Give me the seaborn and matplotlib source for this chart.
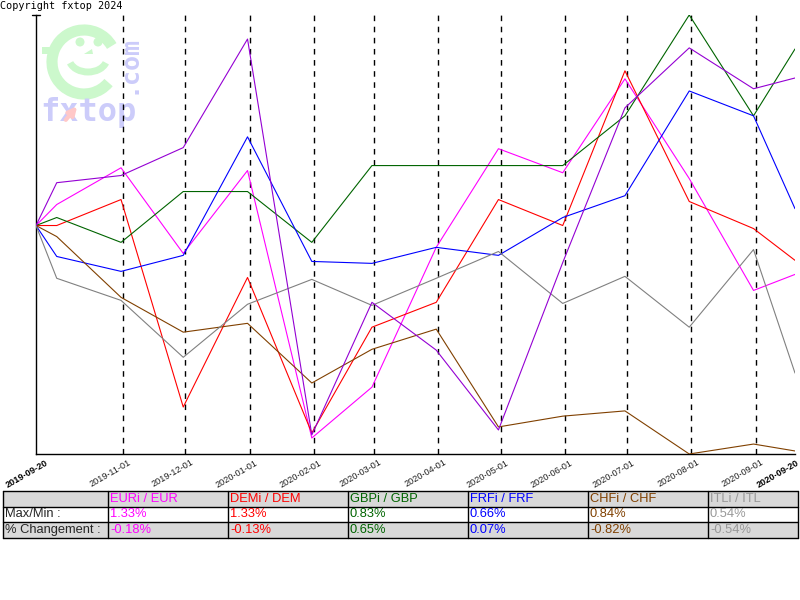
import numpy as np
import pandas as pd
import matplotlib
matplotlib.use("Agg")
import matplotlib.pyplot as plt
import matplotlib.transforms as mtransforms
import seaborn as sns
from matplotlib.patches import Rectangle, Arc, Circle, Polygon

# ---------------- data ----------------
dates = ["2019-09-20", "2019-09-30", "2019-10-31", "2019-11-30", "2019-12-31",
         "2020-01-31", "2020-02-29", "2020-03-31", "2020-04-30", "2020-05-31",
         "2020-06-30", "2020-07-31", "2020-08-31", "2020-09-20"]

eur = [0, 0.076, 0.209, -0.101, 0.199, -0.769, -0.585, -0.079, 0.278, 0.191, 0.531, 0.170, -0.235, -0.177]
dem = [0, 0.000, 0.094, -0.657, -0.188, -0.751, -0.368, -0.278, 0.094, 0.000, 0.560, 0.087, -0.011, -0.126]
gbp = [0, 0.029, -0.061, 0.123, 0.123, -0.061, 0.217, 0.217, 0.217, 0.217, 0.397, 0.762, 0.397, 0.639]
frf = [0, -0.112, -0.166, -0.108, 0.321, -0.130, -0.137, -0.079, -0.108, 0.029, 0.108, 0.487, 0.397, 0.061]
chf = [0, -0.040, -0.260, -0.386, -0.354, -0.570, -0.448, -0.375, -0.729, -0.690, -0.671, -0.827, -0.791, -0.816]
itl = [0, -0.191, -0.271, -0.477, -0.285, -0.195, -0.289, -0.191, -0.094, -0.282, -0.184, -0.368, -0.087, -0.534]
other = [0, 0.155, 0.181, 0.282, 0.675, -0.758, -0.278, -0.451, -0.740, -0.134, 0.426, 0.643, 0.495, 0.534]

series_names = ["EURi / EUR", "DEMi / DEM", "GBPi / GBP", "FRFi / FRF", "CHFi / CHF", "ITLi / ITL", "autre"]
series_vals = [eur, dem, gbp, frf, chf, itl, other]
series_colors = ["#ff00ff", "#ff0000", "#006400", "#0000ff", "#804000", "#808080", "#9400d3"]

table_names = ["EURi / EUR", "DEMi / DEM", "GBPi / GBP", "FRFi / FRF", "CHFi / CHF", "ITLi / ITL"]
table_colors = ["#ff00ff", "#ff0000", "#006400", "#0000ff", "#804000", "#999999"]
max_min = [1.33, 1.33, 0.83, 0.66, 0.84, 0.54]
changement = [-0.18, -0.13, 0.65, 0.07, -0.82, -0.54]

month_lines = ["2019-11-01", "2019-12-01", "2020-01-01", "2020-02-01", "2020-03-01", "2020-04-01",
               "2020-05-01", "2020-06-01", "2020-07-01", "2020-08-01", "2020-09-01"]
start_date, end_date = "2019-09-20", "2020-09-20"

# ---------------- figure ----------------
sns.set_style("white")
plt.rcParams['font.family'] = ['Liberation Sans', 'DejaVu Sans']

W, H = 800, 600
fig = plt.figure(figsize=(8, 6), dpi=100)

# overlay (pixel coordinates) for watermark / table
ov = fig.add_axes([0, 0, 1, 1])
ov.set_xlim(0, W)
ov.set_ylim(H, 0)
ov.axis("off")

# watermark logo (y axis inverted: positive angles go downward visually)
green_l = "#ccf8cc"
blue_l = "#ccccfa"
ov.add_patch(Arc((84, 62), 64, 64, theta1=40, theta2=330, lw=8, color=green_l))
ov.add_patch(Rectangle((42, 47), 10, 7, color=green_l, lw=0))
ov.add_patch(Circle((80, 42), 4.5, color=green_l, lw=0))
ov.add_patch(Circle((98, 42), 4.5, color=green_l, lw=0))
ov.add_patch(Polygon([(84, 54), (92, 49), (93, 54)], closed=True, color=green_l, lw=0))
ov.add_patch(Arc((88, 58), 38, 28, theta1=15, theta2=165, lw=5, color=green_l))
ov.text(40, 113, "fxtop", fontsize=23, fontweight="bold", color=blue_l,
        family="DejaVu Sans Mono", va="center", ha="left")
ov.text(128, 64, ".com", fontsize=18, fontweight="bold", color=blue_l,
        family="DejaVu Sans Mono", va="center", ha="center", rotation=90)
ov.annotate("", xy=(79, 104), xytext=(64, 122),
            arrowprops=dict(arrowstyle="-|>", color="#ffc8c8", lw=3, mutation_scale=12))

ov.text(0, 1, "Copyright fxtop 2024", fontsize=7.3, family="DejaVu Sans Mono",
        va="top", ha="left", color="black")
ov.plot([32, 40], [15, 15], color="black", lw=1)

# table
row_y = [491, 506.5, 522, 537.5]
col_x = [3, 108, 228, 348, 468, 588, 708, 798]
row_bg = ["#d9d9d9", "white", "#d9d9d9"]
for r in range(3):
    ov.add_patch(Rectangle((col_x[0], row_y[r]), col_x[-1] - col_x[0], row_y[r + 1] - row_y[r],
                           facecolor=row_bg[r], edgecolor="none", zorder=1))
for yy in row_y:
    ov.plot([col_x[0], col_x[-1]], [yy, yy], color="black", lw=1, zorder=2)
for xx in col_x:
    ov.plot([xx, xx], [row_y[0], row_y[-1]], color="black", lw=1, zorder=2)

fs_t = 9.3
ov.text(col_x[0] + 2, (row_y[1] + row_y[2]) / 2, "Max/Min :", fontsize=fs_t, va="center", ha="left", zorder=3)
ov.text(col_x[0] + 2, (row_y[2] + row_y[3]) / 2, "% Changement :", fontsize=fs_t, va="center", ha="left", zorder=3)
for i, name in enumerate(table_names):
    x0 = col_x[i + 1] + 2
    c = table_colors[i]
    ov.text(x0, (row_y[0] + row_y[1]) / 2, name, fontsize=fs_t, color=c, va="center", ha="left", zorder=3)
    ov.text(x0, (row_y[1] + row_y[2]) / 2, f"{max_min[i]:.2f}%", fontsize=fs_t, color=c, va="center", ha="left", zorder=3)
    ov.text(x0, (row_y[2] + row_y[3]) / 2, f"{changement[i]:.2f}%", fontsize=fs_t, color=c, va="center", ha="left", zorder=3)

# main chart
ax = fig.add_axes([36 / W, 1 - 454 / H, (795 - 36) / W, (454 - 15) / H])
ax.patch.set_alpha(0)

rows = []
for name, vals in zip(series_names, series_vals):
    for d, v in zip(dates, vals):
        rows.append({"date": pd.Timestamp(d), "value": v, "series": name})
df = pd.DataFrame(rows)

for name in month_lines:
    ax.axvline(pd.Timestamp(name), color="black", lw=1, ls=(0, (4, 4)), zorder=1)

sns.lineplot(data=df, x="date", y="value", hue="series", hue_order=series_names,
             palette=dict(zip(series_names, series_colors)), ax=ax, legend=False,
             linewidth=0.8, estimator=None, sort=False, zorder=3)

allv = np.concatenate([np.array(v) for v in series_vals])
ax.set_ylim(allv.min(), allv.max())
ax.set_xlim(pd.Timestamp(start_date), pd.Timestamp(end_date))
ax.set_xlabel("")
ax.set_ylabel("")
ax.set_yticks([])

tick_dates = [start_date] + month_lines + [end_date]
ax.set_xticks([pd.Timestamp(d) for d in tick_dates])
ax.set_xticklabels([])
ax.tick_params(axis="x", length=0)

# date labels drawn as rotated texts under each tick
base = ax.get_xaxis_transform()
for i, d in enumerate(tick_dates):
    is_edge = i == 0 or i == len(tick_dates) - 1
    dx = 9 if i == 0 else (1 if i == len(tick_dates) - 1 else 5)
    off = mtransforms.ScaledTranslation(dx / 100, -4 / 100, fig.dpi_scale_trans)
    ax.text(pd.Timestamp(d), 0, d, transform=base + off, rotation=30,
            ha="right", va="top", rotation_mode="anchor",
            fontsize=6.6, color="black" if is_edge else "#222222",
            fontweight="bold" if is_edge else "normal", clip_on=False)

for s in ["top", "right"]:
    ax.spines[s].set_visible(False)
for s in ["left", "bottom"]:
    ax.spines[s].set_color("black")
    ax.spines[s].set_linewidth(1)

fig.savefig("out.png", dpi=100)
